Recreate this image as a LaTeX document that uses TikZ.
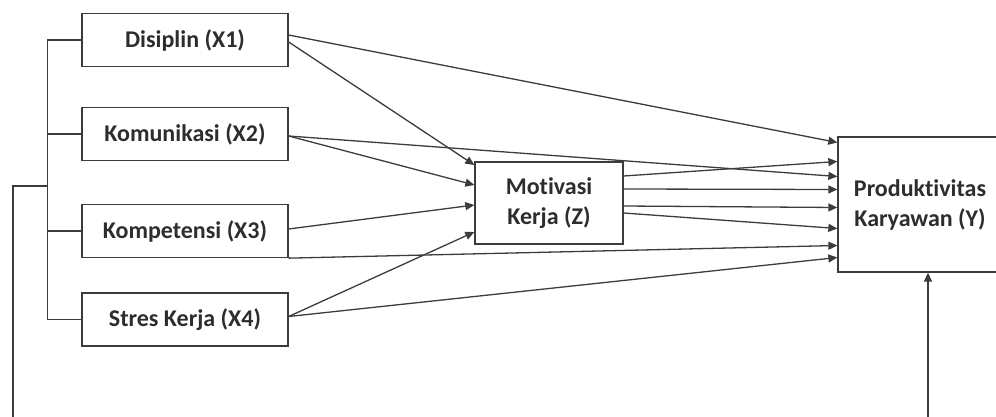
\documentclass[tikz,border=0pt]{standalone}
\usepackage{fontspec}
\setmainfont{Carlito}[Ligatures=NoCommon]
\usetikzlibrary{arrows.meta, calc}
\definecolor{linegray}{RGB}{60, 60, 60}
\definecolor{textgray}{RGB}{45, 45, 45}

\begin{document}
\begin{tikzpicture}[x=1pt, y=-1pt,
  varbox/.style={draw=linegray, line width=1.3pt, minimum width=206pt, minimum height=53pt, inner sep=0pt, text=textgray, font=\fontsize{24}{30}\selectfont\bfseries},
  link/.style={line width=1.3pt, draw=linegray, -{Triangle[length=9pt, width=8pt]}},
  tie/.style={line width=1.3pt, draw=linegray}]
  \useasboundingbox (0,0) rectangle (996,417);
  \clip (0,0) rectangle (996,417);

  % Independent variables
  \node[varbox] (x1) at (185, 40) {Disiplin (X1)};
  \node[varbox] (x2) at (185, 134) {Komunikasi (X2)};
  \node[varbox] (x3) at (185, 231) {Kompetensi (X3)};
  \node[varbox] (x4) at (185, 319.5) {Stres Kerja (X4)};

  % Intervening and dependent variables
  \node[varbox, minimum width=148pt, minimum height=82pt, align=center] (z) at (549, 203) {Motivasi\\Kerja (Z)};
  \node[varbox, minimum width=164pt, minimum height=135pt, align=center] (y) at (920, 204.5) {Produktivitas\\Karyawan (Y)};

  % Bracket joining X1--X4
  \coordinate (br) at (48, 186);
  \draw[tie] (x1.west) -- ++(-34, 0) |- (x4.west);
  \draw[tie] (x2.west) -- ++(-34, 0);
  \draw[tie] (x3.west) -- ++(-34, 0);
  \draw[link] (br) -- ++(-35, 0) -- ++(0, 260) -| ($(y.south)+(8, 0)$);

  % Paths into Z
  \draw[link] ($(x1.east)+(0, 2)$) -- ($(z.west)+(0, -38)$);
  \draw[link] ($(x2.east)+(0, 2)$) -- ($(z.west)+(0, -18)$);
  \draw[link] ($(x3.east)+(0, -2)$) -- ($(z.west)+(0, 2)$);
  \draw[link] ($(x4.east)+(0, -3)$) -- ($(z.west)+(0, 29)$);

  % Direct paths into Y
  \draw[link] ($(x1.east)+(0, -5)$) -- ($(y.west)+(0, -62)$);
  \draw[link] ($(x2.east)+(0, 2)$) -- ($(y.west)+(0, -28)$);
  \draw[link] (x3.south east) -- ($(y.west)+(0, 41)$);
  \draw[link] ($(x4.east)+(0, -3)$) -- ($(y.west)+(0, 53)$);

  % Paths from Z into Y
  \draw[link] ($(z.east)+(0, -27)$) -- ($(y.west)+(0, -43)$);
  \draw[link] ($(z.east)+(0, -14)$) -- ($(y.west)+(0, -15)$);
  \draw[link] ($(z.east)+(0, 3)$) -- ($(y.west)+(0, 3)$);
  \draw[link] ($(z.east)+(0, 10)$) -- ($(y.west)+(0, 24)$);
\end{tikzpicture}
\end{document}
